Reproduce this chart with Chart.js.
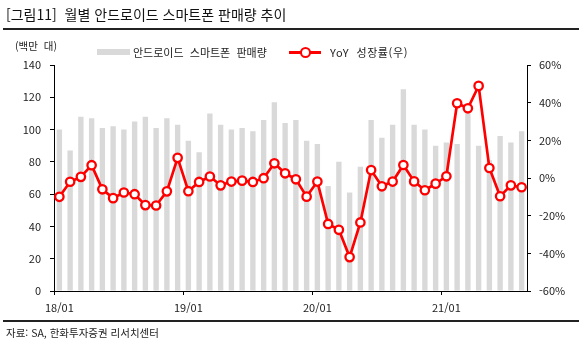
<!DOCTYPE html>
<html lang="ko">
<head>
<meta charset="utf-8">
<script src="https://cdn.jsdelivr.net/npm/chart.js@4"></script>
<style>
  body { margin: 0; background: #fff; font-family: 'Noto Sans CJK KR', 'Noto Sans', sans-serif; color: #222; }
  #wrap { position: relative; width: 582px; height: 343px; overflow: hidden; }
  #chart { position: absolute; left: 0; top: 0; }
  .txt { position: absolute; white-space: nowrap; line-height: 1; }
  .rule { position: absolute; left: 3px; width: 576px; height: 1.5px; background: #222; }
  .swatch-bar { position: absolute; left: 97px; top: 49px; width: 33px; height: 6px; background: #d9d9d9; }
  .swatch-line { position: absolute; left: 289px; top: 51px; width: 32px; height: 2.5px; background: #f00; }
  .swatch-dot { position: absolute; left: 300px; top: 47px; width: 7px; height: 7px; border: 2px solid #f00; border-radius: 50%; background: #fff; }
</style>
</head>
<body>
<div id="wrap">
  <canvas id="chart" width="582" height="343"></canvas>
  <div class="txt" style="left:6px; top:7px; font-size:14px; color:#111;">[그림11]&nbsp; 월별 안드로이드 스마트폰 판매량 추이</div>
  <div class="rule" style="top:28px;"></div>
  <div class="txt" style="left:15px; top:41px; font-size:10.5px;">(백만&nbsp; 대)</div>
  <div class="swatch-bar"></div>
  <div class="txt" style="left:133px; top:46.5px; font-size:11px;">안드로이드&nbsp; 스마트폰&nbsp; 판매량</div>
  <div class="swatch-line"></div>
  <div class="swatch-dot"></div>
  <div class="txt" style="left:330px; top:46.5px; font-size:11px; letter-spacing:0.6px;">YoY&nbsp; 성장률(우)</div>
  <div class="rule" style="top:320px;"></div>
  <div class="txt" style="left:6px; top:328px; font-size:10.5px;">자료: SA, 한화투자증권 리서치센터</div>
</div>
<script>
// monthly categories, Jan 2018 .. Aug 2021
const months = [
  '18/01', '18/02', '18/03', '18/04', '18/05', '18/06', '18/07', '18/08', '18/09', '18/10', '18/11', '18/12',
  '19/01', '19/02', '19/03', '19/04', '19/05', '19/06', '19/07', '19/08', '19/09', '19/10', '19/11', '19/12',
  '20/01', '20/02', '20/03', '20/04', '20/05', '20/06', '20/07', '20/08', '20/09', '20/10', '20/11', '20/12',
  '21/01', '21/02', '21/03', '21/04', '21/05', '21/06', '21/07', '21/08'
];

// android smartphone sales, million units
const sales = [
  100, 87, 108, 107, 101, 102, 100, 105, 108, 101, 107, 103,
  93, 86, 110, 103, 100, 101, 99, 106, 117, 104, 106, 93,
  91, 65, 80, 61, 77, 106, 95, 103, 125, 103, 100, 90,
  92, 91, 110, 90, 81, 96, 92, 99
];

// year-over-year growth, %
const yoy = [
  -10, -2, 0.6, 6.8, -6, -10.7, -7.7, -8.6, -14.4, -14.6, -7.1, 10.7,
  -7, -2.1, 0.8, -3.9, -1.9, -1.4, -2.1, -0.1, 7.8, 2.5, -0.7, -9.9,
  -1.9, -24.4, -27.5, -42, -23.6, 4.2, -4.4, -1.9, 6.9, -1.8, -6.5, -3,
  0.9, 39.7, 37, 48.9, 5.3, -9.7, -3.9, -4.9
];

const salesTicks = [0, 20, 40, 60, 80, 100, 120, 140];
const yoyTicks = [-60, -40, -20, 0, 20, 40, 60];

Chart.defaults.font.family = "'Noto Sans CJK KR', 'Noto Sans', sans-serif";
Chart.defaults.font.size = 11;
Chart.defaults.color = '#222';

const isYearStart = i => (months[i] || '').endsWith('/01');

new Chart(document.getElementById('chart'), {
  type: 'bar',
  data: {
    labels: months,
    datasets: [
      {
        type: 'line',
        label: 'YoY 성장률(우)',
        data: yoy,
        yAxisID: 'y2',
        borderColor: '#f00',
        borderWidth: 2.7,
        pointRadius: 4.2,
        pointBorderWidth: 2.3,
        pointBackgroundColor: '#fff',
        pointBorderColor: '#f00',
        tension: 0,
        order: 0
      },
      {
        label: '안드로이드 스마트폰 판매량',
        data: sales,
        yAxisID: 'y',
        backgroundColor: '#d9d9d9',
        categoryPercentage: 1,
        barPercentage: 0.5,
        order: 1
      }
    ]
  },
  options: {
    responsive: false,
    animation: false,
    layout: { padding: { top: 65, bottom: 28, left: 0, right: 0 } },
    plugins: { legend: { display: false }, tooltip: { enabled: false } },
    scales: {
      x: {
        offset: true,
        border: { color: '#000', width: 1 },
        grid: {
          offset: true,
          drawOnChartArea: false,
          tickLength: 4,
          color: ctx => isYearStart(ctx.index) ? '#000' : 'rgba(0,0,0,0)'
        },
        ticks: {
          autoSkip: false,
          maxRotation: 0,
          padding: 6,
          callback: (v, i) => isYearStart(i) ? months[i] : ''
        },
        afterFit: s => { s.height = 24; }
      },
      y: {
        position: 'left',
        min: 0,
        max: 140,
        border: { color: '#000', width: 1 },
        grid: { drawOnChartArea: false, tickLength: 4, color: '#000' },
        afterBuildTicks: s => { s.ticks = salesTicks.map(v => ({ value: v })); },
        ticks: { padding: 9 },
        afterFit: s => { s.width = 54; }
      },
      y2: {
        position: 'right',
        min: -60,
        max: 60,
        border: { color: '#000', width: 1 },
        grid: { drawOnChartArea: false, tickLength: 4, color: '#000' },
        afterBuildTicks: s => { s.ticks = yoyTicks.map(v => ({ value: v })); },
        ticks: { padding: 8, callback: v => v + '%' },
        afterFit: s => { s.width = 55; }
      }
    }
  }
});
</script>
</body>
</html>
